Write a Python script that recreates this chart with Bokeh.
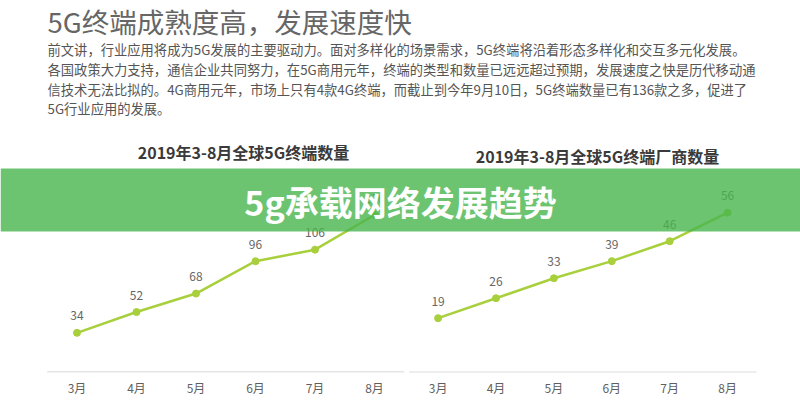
from bokeh.plotting import figure
from bokeh.models import Range1d, FixedTicker
from bokeh.embed import file_html
from bokeh.resources import INLINE
from bokeh.core.properties import value

# ---------------- data ----------------
months = ["3月", "4月", "5月", "6月", "7月", "8月"]
terminals = [34, 52, 68, 96, 106, 136]      # 全球5G终端数量
vendors = [19, 26, 33, 39, 46, 56]          # 全球5G终端厂商数量

page_title = "5G终端成熟度高，发展速度快"
paragraph = [
    "前文讲，行业应用将成为5G发展的主要驱动力。面对多样化的场景需求，5G终端将沿着形态多样化和交互多元化发展。",
    "各国政策大力支持，通信企业共同努力，在5G商用元年，终端的类型和数量已远远超过预期，发展速度之快是历代移动通",
    "信技术无法比拟的。4G商用元年，市场上只有4款4G终端，而截止到今年9月10日，5G终端数量已有136款之多，促进了",
    "5G行业应用的发展。",
]
left_title = "2019年3-8月全球5G终端数量"
right_title = "2019年3-8月全球5G终端厂商数量"
banner_text = "5g承载网络发展趋势"

# ---------------- layout constants ----------------
W, H = 800, 400
BOTTOM = 28
FRAME_H = H - BOTTOM
FONT = "Noto Sans CJK SC"

# left chart: slot i -> pixel L0 + LS*i ; right chart: R0 + RS*i
L0, LS = 76.5, 59.5
R0, RS = 437.6, 57.9
L_ZERO, L_SCALE = 371.6, 1.155
R_ZERO, R_SCALE = 371.8, 2.85

xl = Range1d(-L0 / LS, (W - L0) / LS)
yl = Range1d((L_ZERO - FRAME_H) / L_SCALE, L_ZERO / L_SCALE)
xr = Range1d(-R0 / RS, (W - R0) / RS)
yr = Range1d((R_ZERO - FRAME_H) / R_SCALE, R_ZERO / R_SCALE)

p = figure(width=W, height=H, output_backend="svg", toolbar_location=None,
           x_range=xl, y_range=yl, y_axis_location=None,
           min_border_left=0, min_border_right=0, min_border_top=0,
           min_border_bottom=BOTTOM, background_fill_color="white",
           border_fill_color="white", outline_line_color=None)
p.extra_x_ranges = {"r": xr, "px": Range1d(0, W)}
p.extra_y_ranges = {"r": yr, "px": Range1d(FRAME_H, 0)}
p.xgrid.visible = False
p.ygrid.visible = False

idx = list(range(len(months)))

# axis ticks: left slots and right slots expressed in the main (left) range
right_in_left = [round((R0 + RS * i - L0) / LS, 4) for i in idx]
left_ticks = [float(i) for i in idx]
ax = p.xaxis[0]
ax.ticker = FixedTicker(ticks=left_ticks + right_in_left)
ax.major_label_overrides = {**{t: m for t, m in zip(left_ticks, months)},
                            **{t: m for t, m in zip(right_in_left, months)}}
ax.axis_line_color = None
ax.major_tick_line_color = None
ax.minor_tick_line_color = None
ax.major_tick_out = 0
ax.major_tick_in = 0
ax.minor_tick_out = 0
ax.minor_tick_in = 0
ax.axis_label_standoff = 0
ax.major_label_standoff = 6
ax.major_label_text_font = FONT
ax.major_label_text_font_size = "12px"
ax.major_label_text_color = "#5f5f5f"

LINE = "#a8cf3c"
BASE = "#dddddd"

# baselines
p.segment(x0=[-0.5], x1=[len(months) - 0.5], y0=[0], y1=[0],
          line_color=BASE, line_width=1.5)
p.segment(x0=[-0.5], x1=[len(months) - 0.5], y0=[0], y1=[0],
          line_color=BASE, line_width=1.5, x_range_name="r", y_range_name="r")

# left chart
p.line(idx, terminals, line_color=LINE, line_width=2.5)
p.scatter(idx, terminals, size=7, fill_color=LINE, line_color=LINE)
p.text(idx, terminals, text=[str(v) for v in terminals], y_offset=-17,
       text_align="center", text_baseline="middle", text_font=value(FONT),
       text_font_size=value("12px"), text_color="#666666")

# right chart
p.line(idx, vendors, line_color=LINE, line_width=2.5,
       x_range_name="r", y_range_name="r")
p.scatter(idx, vendors, size=7, fill_color=LINE, line_color=LINE,
          x_range_name="r", y_range_name="r")
p.text(idx, vendors, text=[str(v) for v in vendors], y_offset=-17,
       text_align="center", text_baseline="middle", text_font=value(FONT),
       text_font_size=value("12px"), text_color="#666666",
       x_range_name="r", y_range_name="r")

# header texts
p.text(x=[47], y=[0], text=[page_title], text_align="left", text_baseline="top",
       text_font=value(FONT), text_font_size=value("27.5px"), text_color="#666666",
       x_range_name="px", y_range_name="px")
p.text(x=[47] * len(paragraph), y=[48.5, 68.5, 88.5, 108], text=paragraph,
       text_align="left", text_baseline="middle", text_font=value(FONT),
       text_font_size=value("13.3px"), text_color="#555555",
       x_range_name="px", y_range_name="px")
p.text(x=[243, 597], y=[151, 155], text=[left_title, right_title],
       text_align="center", text_baseline="middle", text_font=value(FONT),
       text_font_size=value("16px"), text_font_style="bold", text_color="#3a3a3a",
       x_range_name="px", y_range_name="px")

# banner overlay
p.quad(left=[0], right=[W], top=[168], bottom=[231], fill_color="#47b54e",
       fill_alpha=0.8, line_color=None, x_range_name="px", y_range_name="px")
p.text(x=[400], y=[201], text=[banner_text], text_align="center",
       text_baseline="middle", text_font=value(FONT), text_font_size=value("34px"),
       text_font_style="bold", text_color="white",
       x_range_name="px", y_range_name="px")

open("out.html", "w").write(file_html(p, INLINE))
